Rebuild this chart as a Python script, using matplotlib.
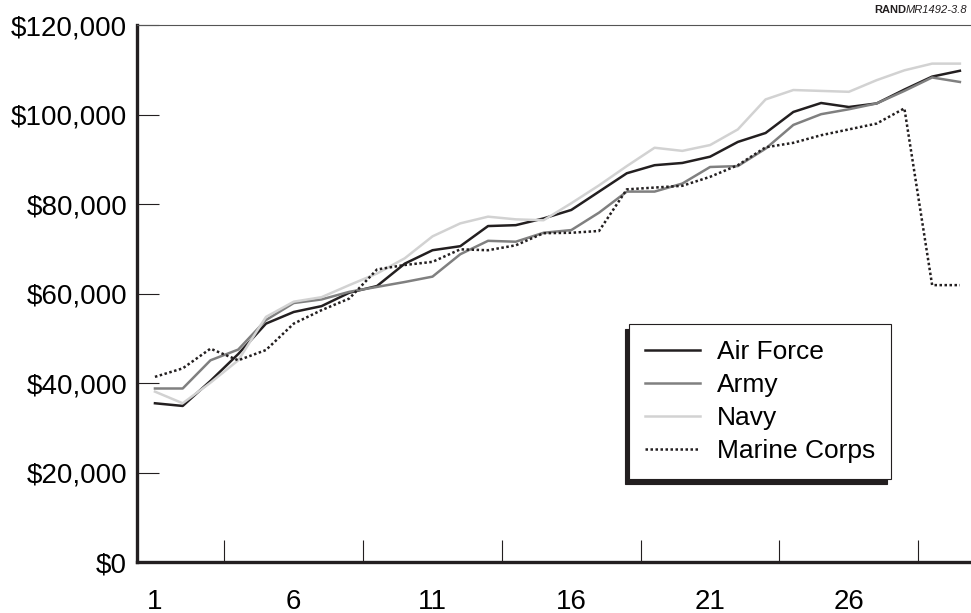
import matplotlib
matplotlib.use("agg")

import matplotlib.pyplot as plt
import numpy as np
from matplotlib.ticker import FixedLocator, FuncFormatter

plt.rcParams["font.family"] = ["Liberation Sans", "DejaVu Sans"]

# Values (thousands of dollars), years of service 1..30.
years = np.arange(1, 31)
air_force = [35.5, 34.9, 40.5, 46.5, 53.3, 55.9, 57.2, 60.2, 61.7, 66.7,
             69.7, 70.6, 75.1, 75.3, 76.8, 78.7, 82.8, 86.9, 88.7, 89.2,
             90.6, 93.9, 95.9, 100.6, 102.6, 101.7, 102.5, 105.6, 108.5, 109.8]
army = [38.8, 38.8, 45.1, 47.5, 54.1, 57.9, 58.7, 60.4, 61.5, 62.6,
        63.8, 68.8, 71.8, 71.6, 73.6, 74.2, 78.1, 82.8, 82.8, 84.6,
        88.3, 88.5, 92.4, 97.7, 100.1, 101.2, 102.5, 105.3, 108.3, 107.3]
navy = [38.1, 35.5, 40.1, 45.1, 54.8, 58.2, 59.2, 61.9, 64.5, 67.9,
        72.8, 75.7, 77.2, 76.6, 76.4, 80.2, 84.2, 88.5, 92.6, 91.9,
        93.2, 96.7, 103.4, 105.5, 105.3, 105.1, 107.7, 109.9, 111.4, 111.4]
marine_corps = [41.4, 43.3, 47.7, 45.1, 47.4, 53.3, 56.3, 58.9, 65.4, 66.4,
                67.1, 69.9, 69.7, 70.8, 73.5, 73.6, 74.0, 83.3, 83.7, 84.1,
                86.1, 88.7, 92.7, 93.7, 95.4, 96.7, 98.0, 101.4, 61.9, 61.9]

x_labels = [1, 6, 11, 16, 21, 26]
y_ticks = [0, 20000, 40000, 60000, 80000, 100000, 120000]

dark = "#231f20"

fig = plt.figure(figsize=(9.71, 6.13), dpi=100)
ax = fig.add_axes([0.141, 0.083, 0.859, 0.876])

k = 1000
ax.plot(years, np.array(air_force) * k, color=dark, lw=1.8, label="Air Force")
ax.plot(years, np.array(army) * k, color="#808080", lw=1.8, label="Army")
ax.plot(years, np.array(navy) * k, color="#d2d2d2", lw=1.8, label="Navy")
ax.plot(years, np.array(marine_corps) * k, color=dark, lw=1.8,
        ls=(0, (1, 1)), dash_capstyle="butt", label="Marine Corps")

ax.set_xlim(0.35, 30.4)
ax.set_ylim(0, 120000)

# Labels under 1, 6, 11...; tick marks sit between them.
ax.xaxis.set_major_locator(FixedLocator(x_labels))
ax.xaxis.set_minor_locator(FixedLocator(np.arange(3.5, 30, 5)))
ax.tick_params(axis="x", which="major", length=0, pad=19, labelsize=20)
ax.tick_params(axis="x", which="minor", direction="in", length=16,
               width=0.8, color=dark)

ax.yaxis.set_major_locator(FixedLocator(y_ticks))
ax.yaxis.set_major_formatter(FuncFormatter(lambda v, p: "${:,.0f}".format(v)))
ax.tick_params(axis="y", direction="in", length=16, width=0.8, color=dark,
               pad=7, labelsize=20)

ax.spines["right"].set_visible(False)
ax.spines["left"].set_linewidth(2.4)
ax.spines["bottom"].set_linewidth(2.4)
ax.spines["left"].set_color(dark)
ax.spines["bottom"].set_color(dark)
ax.spines["top"].set_linewidth(0.8)
ax.spines["top"].set_color("#555555")

leg = ax.legend(loc="upper left", bbox_to_anchor=(0.59, 0.443),
                borderaxespad=0, fontsize=19, frameon=True, fancybox=False,
                handlelength=2.1, handletextpad=0.64, labelspacing=0.34,
                borderpad=0.6,
                shadow={"ox": -3, "oy": -3.5, "facecolor": dark,
                        "edgecolor": dark, "alpha": 1})
leg.get_frame().set_edgecolor(dark)
leg.get_frame().set_linewidth(0.8)

# "RAND" in bold followed by the italic report number, right aligned
rand = fig.text(0.9965, 0.984, "RAND", ha="right", va="center", fontsize=8,
                fontweight="bold", color=dark)
num = fig.text(0.9965, 0.984, "MR1492-3.8", ha="right", va="center",
               fontsize=8, style="italic", color=dark)
fig.canvas.draw()
w = num.get_window_extent().width / fig.bbox.width
rand.set_x(0.9965 - w)

fig.savefig("out.png", dpi=100)
